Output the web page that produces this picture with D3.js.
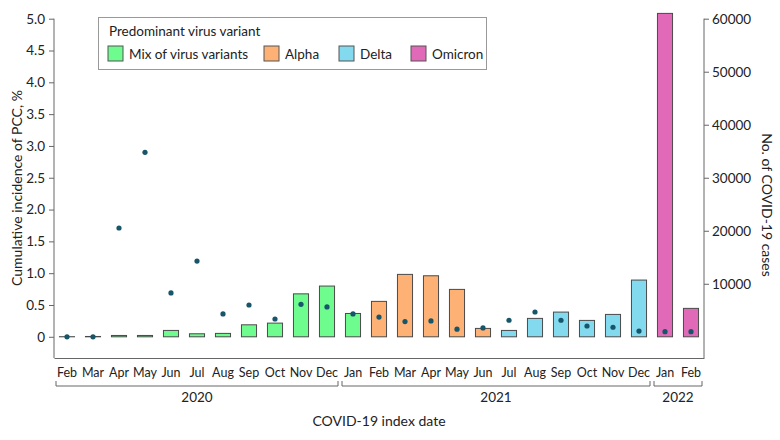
<!DOCTYPE html>
<html><head><meta charset="utf-8">
<script src="https://cdn.jsdelivr.net/npm/d3@7"></script>
<style>body{margin:0;background:#fff}svg{display:block}text{font-family:Lato,"Noto Sans",sans-serif;fill:#222}</style>
</head><body><svg id="c" width="780" height="440"></svg>
<script>
const months = ["Feb","Mar","Apr","May","Jun","Jul","Aug","Sep","Oct","Nov","Dec","Jan","Feb","Mar","Apr","May","Jun","Jul","Aug","Sep","Oct","Nov","Dec","Jan","Feb"];
const years = ["2020","2020","2020","2020","2020","2020","2020","2020","2020","2020","2020","2021","2021","2021","2021","2021","2021","2021","2021","2021","2021","2021","2021","2022","2022"];
const variants = ["Mix","Mix","Mix","Mix","Mix","Mix","Mix","Mix","Mix","Mix","Mix","Mix","Alpha","Alpha","Alpha","Alpha","Alpha","Delta","Delta","Delta","Delta","Delta","Delta","Omicron","Omicron"];
const cases = [20,60,250,250,1200,570,640,2260,2580,8100,9570,4400,6680,11770,11510,8940,1580,1200,3470,4660,3090,4220,10700,61000,5360];
const pcc = [0,0,1.71,2.90,0.69,1.19,0.36,0.50,0.28,0.51,0.47,0.36,0.31,0.24,0.25,0.12,0.14,0.26,0.39,0.26,0.17,0.15,0.09,0.08,0.08];
const variantKeys = ["Mix","Alpha","Delta","Omicron"];
const variantLabels = ["Mix of virus variants","Alpha","Delta","Omicron"];
const variantColors = ["#6dfc8d","#fdb174","#83d9ee","#e06ab7"];
const leftTicks = [0,0.5,1,1.5,2,2.5,3,3.5,4,4.5,5];
const rightTicks = [10000,20000,30000,40000,50000,60000];
const yearList = ["2020","2021","2022"];

const svg = d3.select("#c");
const L = 54, R = 704, T = 18.7, B = 358;
const idx = months.map((m,i)=>i);
const x = d3.scaleBand().domain(idx).range([L,R]).paddingInner(0.42).paddingOuter(0.21);
const yR = d3.scaleLinear().domain([-4000,60000]).range([B,T]);
const yL = d3.scaleLinear().domain([-4000/12000,5]).range([B,T]);
const color = d3.scaleOrdinal().domain(variantKeys).range(variantColors);

// bars
svg.append("g").selectAll("rect").data(idx).join("rect")
  .attr("x", i=>x(i)).attr("width", x.bandwidth())
  .attr("y", i=>yR(cases[i])).attr("height", i=>yR(0)-yR(cases[i]))
  .attr("fill", i=>color(variants[i])).attr("stroke","#4a4a4a").attr("stroke-width",1);

// dots
svg.append("g").selectAll("circle").data(idx).join("circle")
  .attr("cx", i=>x(i)+x.bandwidth()/2).attr("cy", i=>yL(pcc[i])).attr("r",2.6)
  .attr("fill","#17566a");

// left axis
const gl = svg.append("g").attr("transform",`translate(${L},0)`)
  .call(d3.axisLeft(yL).tickValues(leftTicks).tickSize(5).tickPadding(4).tickFormat(d=>d===0?"0":d3.format(".1f")(d)));
gl.select(".domain").attr("d",`M0,${T}V${B}`).attr("stroke","#666");
gl.selectAll(".tick line").attr("stroke","#666");
gl.selectAll("text").style("font-size","13.5px").attr("fill","#222");

// right axis
const gr = svg.append("g").attr("transform",`translate(${R},0)`)
  .call(d3.axisRight(yR).tickValues(rightTicks).tickSize(5).tickPadding(3).tickFormat(d3.format("d")));
gr.select(".domain").attr("d",`M0,${T}V${B}`).attr("stroke","#666");
gr.selectAll(".tick line").attr("stroke","#666");
gr.selectAll("text").style("font-size","13.5px").attr("fill","#222");

// bottom line
const gb = svg.append("g").attr("transform",`translate(0,${B})`)
  .call(d3.axisBottom(x).tickSize(0).tickPadding(10).tickFormat(i=>months[i]));
gb.select(".domain").attr("stroke","#666");
gb.selectAll("text").style("font-size","12.5px").attr("fill","#222");

// year brackets
yearList.forEach(yv=>{
  const ii = idx.filter(i=>years[i]===yv);
  const s = x(ii[0]) - x.step()*x.paddingInner()/2 + 2;
  const e = x(ii[ii.length-1]) + x.bandwidth() + x.step()*x.paddingInner()/2 - 2;
  svg.append("path").attr("d",`M${s},381V386H${e}V381`).attr("fill","none").attr("stroke","#666");
  svg.append("text").attr("x",(s+e)/2).attr("y",402).attr("text-anchor","middle").style("font-size","13.5px").text(yv);
});

svg.append("text").attr("x",379).attr("y",426).attr("text-anchor","middle").style("font-size","14px").text("COVID-19 index date");
svg.append("text").attr("transform","translate(22,188) rotate(-90)").attr("text-anchor","middle").style("font-size","14px").text("Cumulative incidence of PCC, %");
svg.append("text").attr("transform","translate(762,205) rotate(90)").attr("text-anchor","middle").style("font-size","14px").text("No. of COVID-19 cases");

// legend
const lg = svg.append("g");
lg.append("rect").attr("x",98.5).attr("y",17.5).attr("width",388).attr("height",52).attr("fill","#fff").attr("stroke","#999");
lg.append("text").attr("x",109).attr("y",36).style("font-size","13.5px").text("Predominant virus variant");
const lx = [108,264,339,411];
variantKeys.forEach((k,j)=>{
  lg.append("rect").attr("x",lx[j]).attr("y",46).attr("width",15).attr("height",15).attr("fill",color(k)).attr("stroke","#555");
  lg.append("text").attr("x",lx[j]+21).attr("y",58.5).style("font-size","13.5px").text(variantLabels[j]);
});
</script></body></html>
